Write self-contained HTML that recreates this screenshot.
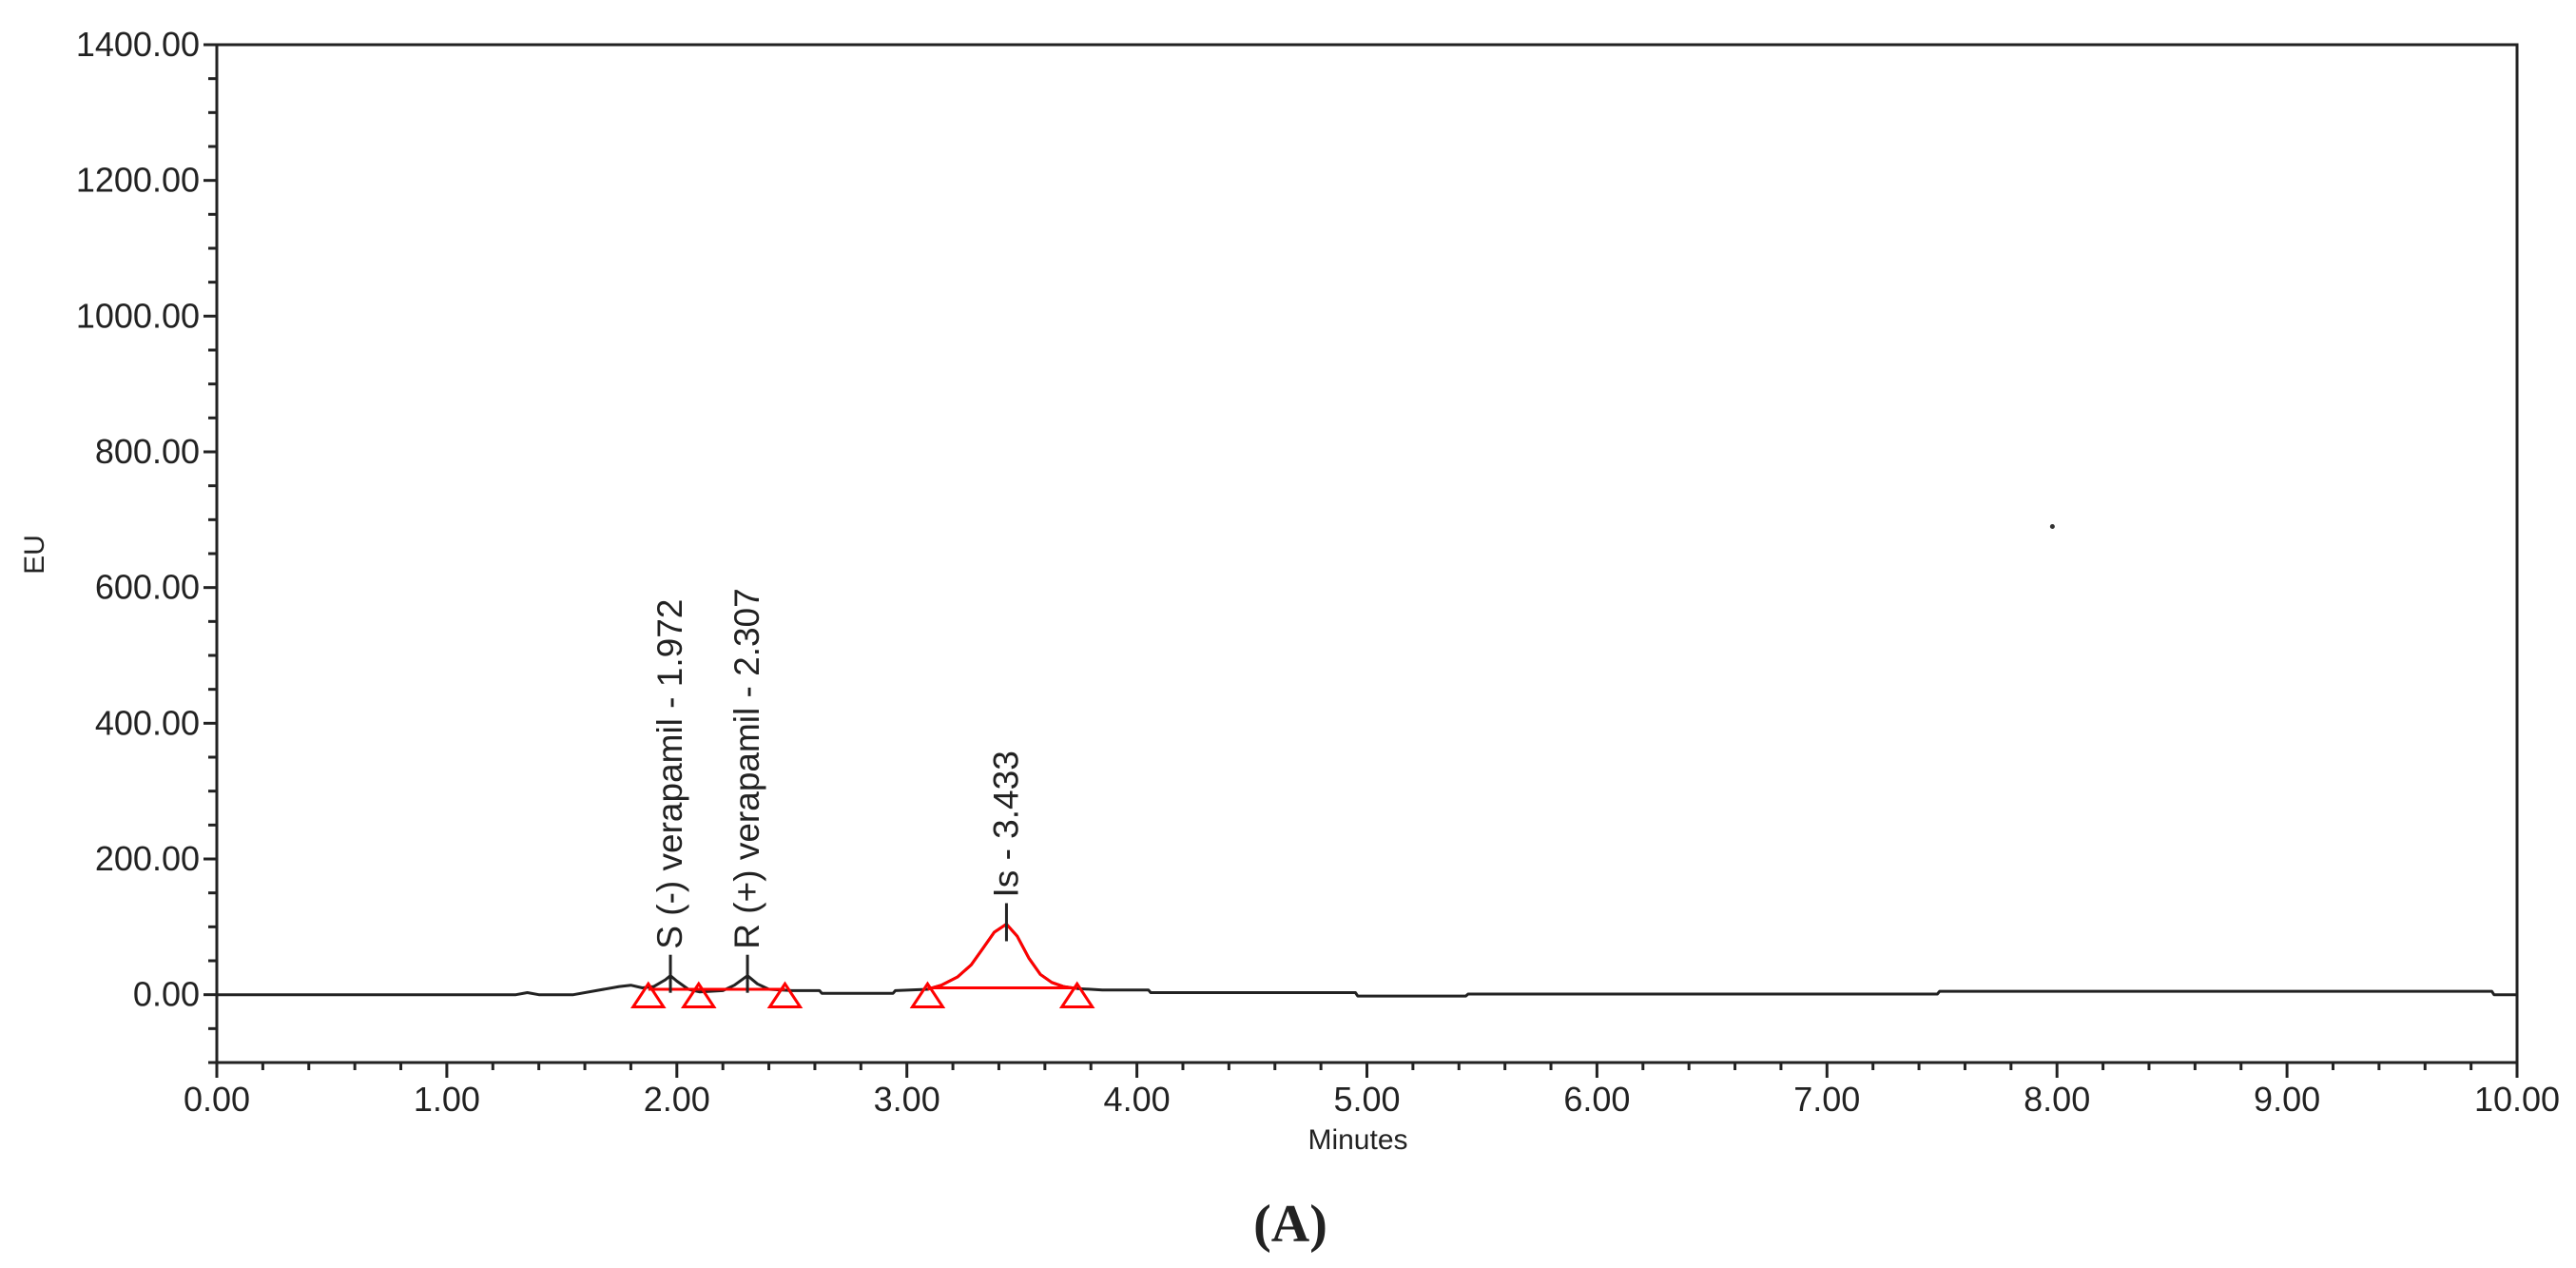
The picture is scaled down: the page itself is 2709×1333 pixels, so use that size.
<!DOCTYPE html>
<html><head><meta charset="utf-8">
<style>
html,body{margin:0;padding:0;background:#fff;}
svg{display:block;}
text{font-family:"Liberation Sans",Arial,sans-serif;fill:#222;}
</style></head>
<body>
<svg id="chart" width="2709" height="1333" viewBox="0 0 2709 1333" xmlns="http://www.w3.org/2000/svg"></svg>
<script>
// ---- data ----
const xTicks = [0,1,2,3,4,5,6,7,8,9,10];
const xTickLabels = ["0.00","1.00","2.00","3.00","4.00","5.00","6.00","7.00","8.00","9.00","10.00"];
const yTicks = [0,200,400,600,800,1000,1200,1400];
const yTickLabels = ["0.00","200.00","400.00","600.00","800.00","1000.00","1200.00","1400.00"];
const traceTimes = [0,1.30,1.35,1.40,1.55,1.65,1.75,1.80,1.85,1.90,1.95,1.972,2.00,2.05,2.10,2.20,2.25,2.307,2.35,2.40,2.50,2.62,2.63,2.94,2.95,3.09,3.15,3.22,3.28,3.33,3.38,3.433,3.48,3.53,3.58,3.63,3.68,3.74,3.85,4.05,4.06,4.95,4.96,5.43,5.44,7.48,7.49,9.89,9.90,10];
const traceValues = [0,0,3,0,0,6,12,14,10,12,22,28,20,8,4,6,14,28,16,8,6,6,2,2,6,8,14,26,44,68,92,104,86,54,30,18,12,9,7,7,3,3,-2,-2,1,1,5,5,0,0];
const peakNames = ["S (-) verapamil - 1.972","R (+) verapamil - 2.307","Is - 3.433"];
const peakTimes = [1.972,2.307,3.433];
const peakHeights = [28,28,104];
const markerTimes = [1.876,2.095,2.47,3.09,3.74];
const redBaseStart = [1.876,3.09];
const redBaseEnd = [2.47,3.74];
const redBaseValue = [8,10];
const strayPoint = [7.98,690];

// ---- axes ----
const X0=228,X1=2647,Y0=1117,Ytop=47;
const yMin=-100,yMax=1400;
function sx(t){return X0+(t-0)/(10-0)*(X1-X0);}
function sy(v){return Y0-(v-yMin)/(yMax-yMin)*(Y0-Ytop);}
const svg=document.getElementById('chart');
const NS='http://www.w3.org/2000/svg';
function mk(tag,attrs){const e=document.createElementNS(NS,tag);for(const k in attrs)e.setAttribute(k,attrs[k]);svg.appendChild(e);return e;}

// frame
let f=mk('rect',{x:X0,y:Ytop,width:X1-X0,height:Y0-Ytop,fill:'none',stroke:'#222','stroke-width':3});



// y ticks
for(let v=-100;v<=1400;v+=50){
  const major=(v%200===0);
  const t=mk('line',{x1:X0-(major?14:9),x2:X0,y1:sy(v),y2:sy(v),stroke:'#222','stroke-width':3});
  
  
}
yTicks.forEach((v,i)=>{
  const t=mk('text',{x:X0-18,y:sy(v)+12,'text-anchor':'end','font-size':36});
  t.textContent=yTickLabels[i];
  
  
});
// x ticks
for(let i=0;i<=50;i++){
  const t0=i*0.2;const major=(i%5===0);
  const t=mk('line',{x1:sx(t0),x2:sx(t0),y1:Y0,y2:Y0+(major?16:8),stroke:'#222','stroke-width':3});
  
  
}
xTicks.forEach((v,i)=>{
  const t=mk('text',{x:sx(v),y:1168,'text-anchor':'middle','font-size':36});
  t.textContent=xTickLabels[i];
  
  
});
let xt=mk('text',{x:1428,y:1208,'text-anchor':'middle','font-size':30});
xt.textContent='Minutes';


let yt=mk('text',{x:0,y:0,'text-anchor':'middle','font-size':30,transform:'translate(46,583) rotate(-90)'});
yt.textContent='EU';


let cap=mk('text',{x:1357,y:1305,'text-anchor':'middle','font-size':56,style:'font-family:"Liberation Serif",serif;font-weight:bold'});
cap.textContent='(A)';



// trace
let d='';traceTimes.forEach((t,i)=>{d+=(i?'L':'M')+sx(t).toFixed(1)+' '+sy(traceValues[i]).toFixed(1);});
let tr=mk('path',{d:d,fill:'none',stroke:'#222','stroke-width':3,'stroke-linejoin':'round'});


// red Is peak overlay
let dr='';let first=true;traceTimes.forEach((t,i)=>{if(t>=3.09&&t<=3.74){dr+=(first?'M':'L')+sx(t).toFixed(1)+' '+sy(traceValues[i]).toFixed(1);first=false;}});
let rp=mk('path',{d:dr,fill:'none',stroke:'#f00','stroke-width':3,'stroke-linejoin':'round'});


redBaseStart.forEach((s,i)=>{
  const l=mk('line',{x1:sx(s),x2:sx(redBaseEnd[i]),y1:sy(redBaseValue[i]),y2:sy(redBaseValue[i]),stroke:'#f00','stroke-width':3});
  
  
});
// markers
markerTimes.forEach(t=>{
  const cx=sx(t),yb=sy(-18),yt2=sy(16);
  const p=mk('polygon',{points:`${cx},${yt2} ${cx-16},${yb} ${cx+16},${yb}`,fill:'none',stroke:'#f00','stroke-width':3});
  
  
});
// peak labels
peakTimes.forEach((t,i)=>{
  const x=sx(t),ytop=sy(peakHeights[i]);
  const l=mk('line',{x1:x,x2:x,y1:ytop-22,y2:ytop+18,stroke:'#222','stroke-width':3});
  
  
  const tx=mk('text',{x:0,y:0,'font-size':37,transform:`translate(${x+12},${ytop-28}) rotate(-90)`});
  tx.textContent=peakNames[i];
  
  
});
let dot=mk('circle',{cx:sx(strayPoint[0]),cy:sy(strayPoint[1]),r:2.5,fill:'#333'});


</script>
</body></html>
